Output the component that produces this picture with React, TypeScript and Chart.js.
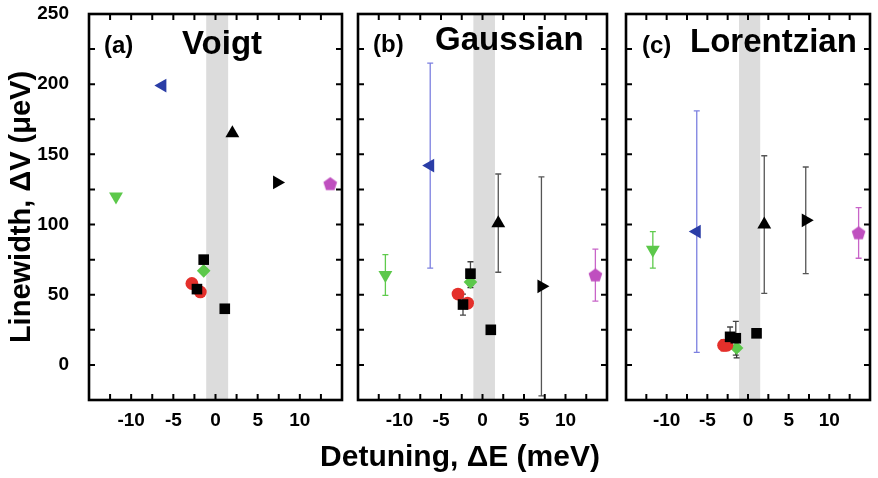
import React, { useEffect, useRef } from 'react';
import { Chart, registerables } from 'chart.js';
Chart.register(...registerables);

const FONT = '"Liberation Sans", Arial, Helvetica, sans-serif';

// ---------------- data ----------------
const xTickValues = [-10, -5, 0, 5, 10];
const yTickValues = [0, 50, 100, 150, 200, 250];
const xLimits = [-15, 15];
const yLimits = [-25, 250];
const shadedBand = [-1.1, 1.5]; // shaded detuning region (meV)

const panelLetters = ['(a)', '(b)', '(c)'];
const panelNames = ['Voigt', 'Gaussian', 'Lorentzian'];
const yAxisTitle = 'Linewidth, ΔV (μeV)';
const xAxisTitle = 'Detuning, ΔE (meV)';

type Pt = [string, number, number, number]; // [series, detuning meV, linewidth µeV, error ±µeV]

const voigtPoints: Pt[] = [
  ['downTri', -11.8, 120, 0],
  ['leftTri', -6.3, 199, 0],
  ['upTri', 2.0, 165, 0],
  ['rightTri', 7.3, 130, 0],
  ['pentagon', 13.6, 129, 0],
  ['square', -1.4, 75, 0],
  ['square', -2.2, 54, 0],
  ['square', 1.1, 40, 0],
  ['circle', -2.8, 58, 0],
  ['circle', -1.8, 52, 0],
  ['diamond', -1.4, 67, 0],
];

const gaussianPoints: Pt[] = [
  ['downTri', -11.7, 64, 14.5],
  ['leftTri', -6.3, 142, 73],
  ['upTri', 1.9, 101, 35],
  ['rightTri', 7.1, 56, 78],
  ['pentagon', 13.6, 64, 18.5],
  ['square', -1.45, 65, 8.5],
  ['square', -2.35, 43, 7.5],
  ['square', 1.0, 25, 0],
  ['circle', -2.95, 50.5, 0],
  ['circle', -1.8, 44, 0],
  ['diamond', -1.45, 59, 4],
];

const lorentzianPoints: Pt[] = [
  ['downTri', -11.7, 82, 13],
  ['leftTri', -6.3, 95, 86],
  ['upTri', 2.0, 100, 49],
  ['rightTri', 7.1, 103, 38],
  ['pentagon', 13.6, 94, 18],
  ['square', -2.2, 20, 7],
  ['square', -1.5, 19, 12],
  ['square', 1.05, 22.5, 0],
  ['circle', -3.0, 14, 4],
  ['circle', -2.6, 14, 3],
  ['diamond', -1.4, 12, 7],
];

const panelPoints = [voigtPoints, gaussianPoints, lorentzianPoints];

// ---------------- styles ----------------
const seriesOrder = ['downTri', 'leftTri', 'upTri', 'rightTri', 'pentagon', 'square', 'circle', 'diamond'];
const GREEN = '#5cc84a';
const BLUE = '#2a3da6';
const RED = '#e4302b';
const MAGENTA = '#bf4fbf';

const seriesStyle: Record<string, any> = {
  downTri: { shape: 'triangle', rotation: 180, radius: 8, color: GREEN, err: '#5fcb4d' },
  leftTri: { shape: 'triangle', rotation: -90, radius: 8, color: BLUE, err: '#7c80e0' },
  upTri: { shape: 'triangle', rotation: 0, radius: 8, color: '#000000', err: '#555555' },
  rightTri: { shape: 'triangle', rotation: 90, radius: 8, color: '#000000', err: '#555555' },
  pentagon: { shape: 'pentagon', rotation: 0, radius: 7.2, color: MAGENTA, err: '#c864c8' },
  square: { shape: 'rect', rotation: 0, radius: 7.5, color: '#000000', err: '#444444' },
  circle: { shape: 'circle', rotation: 0, radius: 6.4, color: RED, err: RED },
  diamond: { shape: 'rectRot', rotation: 0, radius: 6.8, color: GREEN, err: '#333333' },
};

// ---------------- layout ----------------
const panelLayout = [
  { left: 0, width: 350, padL: 0, padR: 6, showY: true, letterDx: 15, letterBase: 53, nameDx: 93, nameBase: 54 },
  { left: 350, width: 265, padL: 5, padR: 5, showY: false, letterDx: 15, letterBase: 52, nameDx: 77, nameBase: 50 },
  { left: 618, width: 260, padL: 5, padR: 2, showY: false, letterDx: 16, letterBase: 53, nameDx: 64, nameBase: 52 },
];

let pentagonCache: HTMLCanvasElement | null = null;
function pentagonImage(color: string, r: number) {
  if (pentagonCache) return pentagonCache;
  const s = Math.ceil(r * 2 + 2);
  const c = document.createElement('canvas');
  c.width = s;
  c.height = s;
  const g = c.getContext('2d')!;
  g.fillStyle = color;
  g.beginPath();
  for (let i = 0; i < 5; i++) {
    const a = -Math.PI / 2 + (i * 2 * Math.PI) / 5;
    const px = s / 2 + r * Math.cos(a);
    const py = s / 2 + 0.5 + r * Math.sin(a);
    if (i === 0) g.moveTo(px, py);
    else g.lineTo(px, py);
  }
  g.closePath();
  g.fill();
  pentagonCache = c;
  return c;
}

const panelPlugin = {
  id: 'panelDecor',
  beforeDatasetsDraw(chart: any) {
    const { ctx, chartArea: a, scales } = chart;
    const x = scales.x;
    const y = scales.y;
    ctx.save();
    ctx.fillStyle = '#dcdcdc';
    const x0 = x.getPixelForValue(shadedBand[0]);
    const x1 = x.getPixelForValue(shadedBand[1]);
    ctx.fillRect(x0, a.top, x1 - x0, a.bottom - a.top);
    // error bars
    chart.data.datasets.forEach((ds: any) => {
      ctx.strokeStyle = ds.errColor;
      ctx.lineWidth = 1.3;
      ds.data.forEach((p: any) => {
        if (!p.e) return;
        const px = x.getPixelForValue(p.x);
        const yt = y.getPixelForValue(p.y + p.e);
        const yb = y.getPixelForValue(p.y - p.e);
        ctx.beginPath();
        ctx.moveTo(px, yt);
        ctx.lineTo(px, yb);
        ctx.moveTo(px - 3, yt);
        ctx.lineTo(px + 3, yt);
        ctx.moveTo(px - 3, yb);
        ctx.lineTo(px + 3, yb);
        ctx.stroke();
      });
    });
    ctx.restore();
  },
  afterDraw(chart: any, _args: any, opts: any) {
    const { ctx, chartArea: a, scales } = chart;
    const x = scales.x;
    const y = scales.y;
    ctx.save();
    ctx.strokeStyle = '#000';
    ctx.lineWidth = 2;
    const tl = 6;
    ctx.beginPath();
    for (let v = xLimits[0] + 2.5; v < xLimits[1]; v += 2.5) {
      const px = x.getPixelForValue(v);
      ctx.moveTo(px, a.bottom);
      ctx.lineTo(px, a.bottom - tl);
      ctx.moveTo(px, a.top);
      ctx.lineTo(px, a.top + tl);
    }
    for (let v = yLimits[0] + 25; v < yLimits[1]; v += 25) {
      const py = y.getPixelForValue(v);
      ctx.moveTo(a.left, py);
      ctx.lineTo(a.left + tl, py);
      ctx.moveTo(a.right, py);
      ctx.lineTo(a.right - tl, py);
    }
    ctx.stroke();
    ctx.lineWidth = 2.6;
    ctx.strokeRect(a.left, a.top, a.right - a.left, a.bottom - a.top);
    // panel labels
    ctx.fillStyle = '#000';
    ctx.textBaseline = 'alphabetic';
    ctx.textAlign = 'left';
    ctx.font = `bold 24px ${FONT}`;
    ctx.fillText(opts.letter, a.left + opts.letterDx, opts.letterBase);
    ctx.font = `bold 33px ${FONT}`;
    ctx.fillText(opts.name, a.left + opts.nameDx, opts.nameBase);
    ctx.restore();
  },
};

function Panel({ index }: { index: number }) {
  const ref = useRef<HTMLCanvasElement>(null);
  const lay = panelLayout[index];
  useEffect(() => {
    const points = panelPoints[index];
    const datasets = seriesOrder.map((key) => {
      const st = seriesStyle[key];
      const data = points.filter((p) => p[0] === key).map((p) => ({ x: p[1], y: p[2], e: p[3] }));
      return {
        label: key,
        data,
        pointStyle: st.shape === 'pentagon' ? pentagonImage(st.color, st.radius) : st.shape,
        pointRadius: st.radius,
        pointRotation: st.rotation,
        backgroundColor: st.color,
        borderColor: st.color,
        pointBorderWidth: 0,
        showLine: false,
        errColor: st.err,
      } as any;
    });
    const chart = new Chart(ref.current!, {
      type: 'scatter',
      data: { datasets },
      plugins: [panelPlugin as any],
      options: {
        animation: false,
        responsive: false,
        events: [],
        layout: { padding: { left: lay.padL, right: lay.padR, top: 14, bottom: 0 } },
        plugins: {
          legend: { display: false },
          tooltip: { enabled: false },
          panelDecor: {
            letter: panelLetters[index],
            name: panelNames[index],
            letterDx: lay.letterDx,
            letterBase: lay.letterBase,
            nameDx: lay.nameDx,
            nameBase: lay.nameBase,
          },
        } as any,
        scales: {
          x: {
            type: 'linear',
            min: xLimits[0],
            max: xLimits[1],
            grid: { display: false },
            border: { display: false },
            afterBuildTicks: (s: any) => {
              s.ticks = xTickValues.map((v) => ({ value: v }));
            },
            afterFit: (s: any) => {
              s.height = 78;
              s.paddingLeft = 0;
              s.paddingRight = 0;
            },
            ticks: {
              autoSkip: false,
              maxRotation: 0,
              padding: 1,
              color: '#000',
              font: { family: FONT, size: 19, weight: 'bold' },
            },
          },
          y: {
            type: 'linear',
            display: lay.showY,
            min: yLimits[0],
            max: yLimits[1],
            grid: { display: false },
            border: { display: false },
            afterBuildTicks: (s: any) => {
              s.ticks = yTickValues.map((v) => ({ value: v }));
            },
            afterFit: (s: any) => {
              s.width = lay.showY ? 89 : 0;
              s.paddingTop = 0;
              s.paddingBottom = 0;
            },
            ticks: {
              autoSkip: false,
              padding: 12,
              color: '#000',
              font: { family: FONT, size: 19, weight: 'bold' },
            },
            title: {
              display: true,
              text: yAxisTitle,
              color: '#000',
              padding: { top: 5, bottom: 0 },
              font: { family: FONT, size: 29, weight: 'bold' },
            },
          },
        },
      } as any,
    });
    return () => chart.destroy();
  }, [index]);
  return (
    <canvas
      ref={ref}
      width={lay.width}
      height={478}
      style={{ position: 'absolute', left: lay.left, top: 0, width: lay.width, height: 478 }}
    />
  );
}

export default function App() {
  return (
    <div style={{ position: 'fixed', left: 0, top: 0, width: 878, height: 478, background: '#fff', overflow: 'hidden' }}>
      <Panel index={0} />
      <Panel index={1} />
      <Panel index={2} />
      <div
        style={{
          position: 'absolute',
          left: 0,
          top: 441,
          width: 920,
          textAlign: 'center',
          fontFamily: FONT,
          fontWeight: 'bold',
          fontSize: 30,
          lineHeight: '29px',
          color: '#000',
          whiteSpace: 'nowrap',
        }}
      >
        {xAxisTitle}
      </div>
    </div>
  );
}
